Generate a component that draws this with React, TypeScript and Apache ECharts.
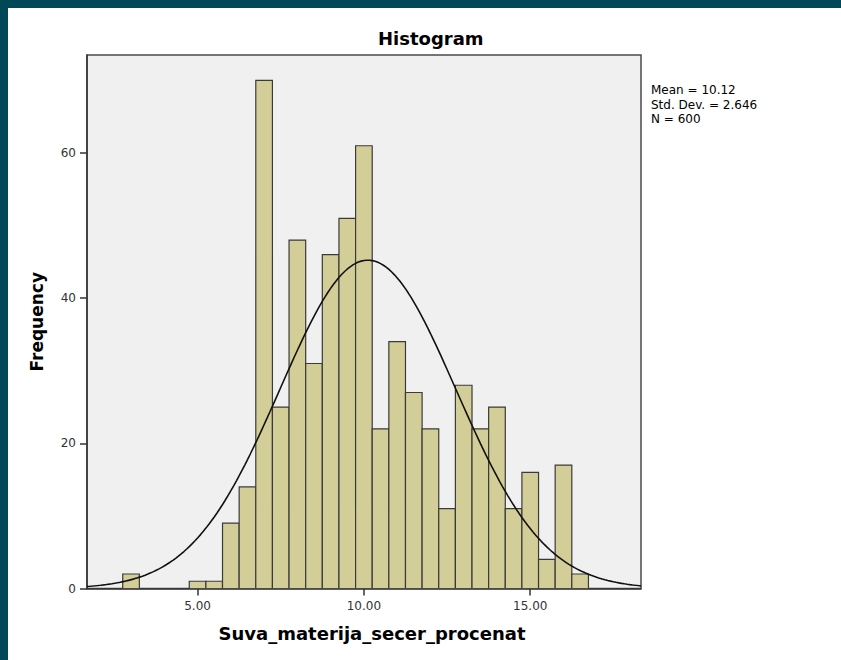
import React, { useEffect, useRef } from "react";
import * as echarts from "echarts";

// Histogram bins (start of each 0.5-wide bin) and frequencies
const binStarts = [2.75, 4.75, 5.25, 5.75, 6.25, 6.75, 7.25, 7.75, 8.25, 8.75, 9.25, 9.75, 10.25, 10.75, 11.25, 11.75, 12.25, 12.75, 13.25, 13.75, 14.25, 14.75, 15.25, 15.75, 16.25];
const frequencies = [2, 1, 1, 9, 14, 70, 25, 48, 31, 46, 51, 61, 22, 34, 27, 22, 11, 28, 22, 25, 11, 16, 4, 17, 2];
const BIN_WIDTH = 0.5;
const MEAN = 10.12;
const STD = 2.646;
const N = 600;
const xTicks = [5, 10, 15];
const yTicks = [0, 20, 40, 60];
const X_MIN = 1.676;
const X_MAX = 18.33;
const Y_MAX = 73.5;

export default function App() {
  const ref = useRef<HTMLDivElement>(null);
  useEffect(() => {
    document.body.style.margin = "0";
    const chart = echarts.init(ref.current!, undefined, { renderer: "svg" });
    const bars = binStarts.map((s, i) => [s, s + BIN_WIDTH, frequencies[i]]);
    const curve: number[][] = [];
    const steps = 200;
    for (let i = 0; i <= steps; i++) {
      const x = X_MIN + ((X_MAX - X_MIN) * i) / steps;
      const z = (x - MEAN) / STD;
      const y = (N * BIN_WIDTH) / (STD * Math.sqrt(2 * Math.PI)) * Math.exp(-0.5 * z * z);
      curve.push([x, y]);
    }
    const font = "DejaVu Sans, Verdana, sans-serif";
    chart.setOption({
      animation: false,
      backgroundColor: "#ffffff",
      textStyle: { fontFamily: font },
      title: {
        text: "Histogram",
        left: 373,
        top: 24,
        textStyle: { fontFamily: font, fontSize: 18, fontWeight: "bold", color: "#000" },
      },
      grid: {
        left: 87,
        top: 55,
        width: 554,
        height: 533.5,
        show: true,
        backgroundColor: "#f0f0f0",
        borderColor: "#4a4a4a",
        borderWidth: 1.5,
      },
      xAxis: {
        type: "value",
        min: X_MIN,
        max: X_MAX,
        name: "Suva_materija_secer_procenat",
        nameLocation: "middle",
        nameGap: 36,
        nameTextStyle: {
          fontFamily: font,
          fontSize: 18,
          fontWeight: "bold",
          color: "#000",
          padding: [0, 0, 0, 16],
        },
        axisLine: { show: true, lineStyle: { color: "#333", width: 1.5 } },
        axisTick: { show: true, length: 7, customValues: xTicks, lineStyle: { color: "#333", width: 1.5 } },
        axisLabel: {
          customValues: xTicks,
          formatter: (v: number) => v.toFixed(2),
          fontFamily: font,
          fontSize: 12,
          color: "#333",
          margin: 11,
        },
        splitLine: { show: false },
      },
      yAxis: {
        type: "value",
        min: 0,
        max: Y_MAX,
        interval: 20,
        name: "Frequency",
        nameLocation: "middle",
        nameGap: 42,
        nameTextStyle: { fontFamily: font, fontSize: 17, fontWeight: "bold", color: "#000" },
        axisLine: { show: true, lineStyle: { color: "#333", width: 1.5 } },
        axisTick: { show: true, length: 7, customValues: yTicks, lineStyle: { color: "#333", width: 1.5 } },
        axisLabel: {
          customValues: yTicks,
          fontFamily: font,
          fontSize: 12,
          color: "#333",
          margin: 11,
        },
        splitLine: { show: false },
      },
      series: [
        {
          type: "custom",
          data: bars,
          clip: true,
          renderItem: (params: any, api: any) => {
            const p0 = api.coord([api.value(0), 0]);
            const p1 = api.coord([api.value(1), api.value(2)]);
            return {
              type: "rect",
              shape: { x: p0[0], y: p1[1], width: p1[0] - p0[0], height: p0[1] - p1[1] },
              style: { fill: "#d3ce98", stroke: "#3a3a3a", lineWidth: 1.2 },
            };
          },
        },
        {
          type: "line",
          data: curve,
          showSymbol: false,
          smooth: false,
          lineStyle: { color: "#111", width: 1.6 },
          z: 5,
        },
      ],
      graphic: [
        { type: "rect", shape: { x: 0, y: 0, width: 841, height: 8 }, style: { fill: "#004858" }, z: 100 },
        { type: "rect", shape: { x: 0, y: 0, width: 8, height: 660 }, style: { fill: "#004858" }, z: 100 },
        {
          type: "text",
          left: 651,
          top: 83,
          style: {
            text: `Mean = ${MEAN.toFixed(2)}\nStd. Dev. = ${STD.toFixed(3)}\nN = ${N}`,
            font: `12px ${font}`,
            lineHeight: 14.5,
            fill: "#000",
          },
        },
      ],
    });
    return () => chart.dispose();
  }, []);
  return <div ref={ref} style={{ width: 841, height: 660, position: "absolute", left: 0, top: 0 }} />;
}
